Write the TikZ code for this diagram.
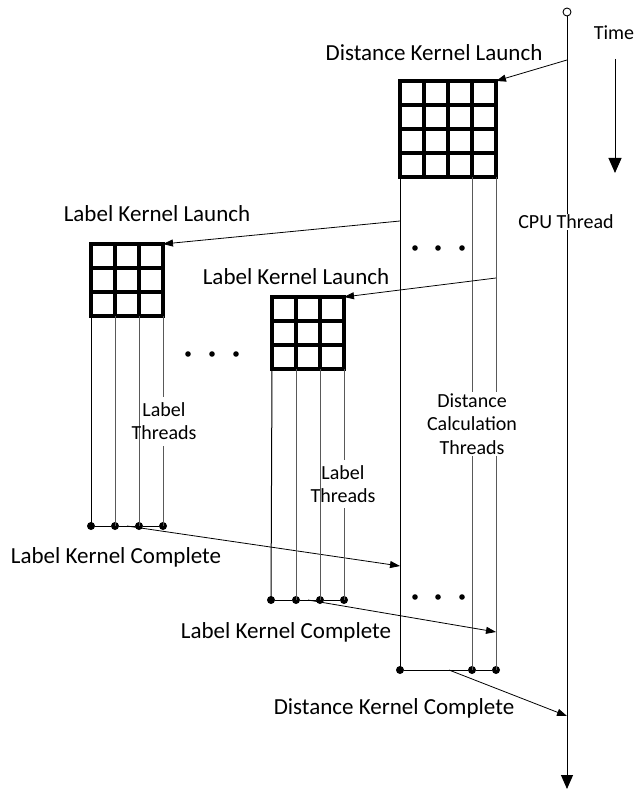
\documentclass[tikz,border=0pt]{standalone}
\usepackage{fontspec}
\setmainfont{Carlito}
\usetikzlibrary{arrows.meta}
\begin{document}
\begin{tikzpicture}[x=1pt,y=-1pt,
  big/.style={font=\fontsize{23}{27}\selectfont, inner sep=0pt, anchor=base},
  small/.style={font=\fontsize{20}{23.5}\selectfont, inner sep=0pt, align=center},
  gridline/.style={line width=3.5pt, line cap=rect},
  thread/.style={line width=1pt, black!65},
  kline/.style={line width=1pt, black},
  arr/.style={line width=0.8pt, -{Triangle[length=10pt,width=7pt]}},
  bigarr/.style={line width=1pt, -{Triangle[length=14pt,width=12pt]}},
  dot/.style={circle, fill=black, inner sep=0pt, minimum size=8pt},
]
\useasboundingbox (0,0) rectangle (635,791);

% ---------- coordinates ----------
\coordinate (dTR) at (496,81);
\coordinate (aTR) at (163,244);
\coordinate (bTR) at (344,297);

% ---------- grids ----------
\foreach \i in {0,...,4} {
  \draw[gridline] (400+24*\i,81) -- (400+24*\i,177);
  \draw[gridline] (400,81+24*\i) -- (496,81+24*\i);
}
\foreach \i in {0,...,3} {
  \draw[gridline] (91+24*\i,244) -- (91+24*\i,316);
  \draw[gridline] (91,244+24*\i) -- (163,244+24*\i);
  \draw[gridline] (272+24*\i,297) -- (272+24*\i,369);
  \draw[gridline] (272,297+24*\i) -- (344,297+24*\i);
}

% ---------- CPU thread ----------
\node[circle, draw, fill=white, inner sep=0pt, minimum size=8pt, line width=0.9pt] (cpuTop) at (567,12) {};
\coordinate (cpuEnd) at (567,789);
\draw[bigarr] (cpuTop) -- (cpuEnd);
\node[small, fill=white, inner sep=1pt] (cpulbl) at (566,222) {CPU Thread};

% ---------- Time ----------
\node[small, anchor=base] (time) at (614,40) {Time};
\coordinate (tA) at (615,59);
\coordinate (tB) at (615,173);
\draw[line width=1pt, -{Triangle[length=15pt,width=13pt]}] (tA) -- (tB);

% ---------- distance kernel ----------
\node[big] (dlaunch) at (434,61) {Distance Kernel Launch};
\coordinate (cpuL) at (567,60);
\draw[arr] (cpuL) -- (dTR);

\node[dot] (dd1) at (400,670) {};
\node[dot] (dd2) at (472,670) {};
\node[dot] (dd3) at (496,670) {};
\draw[kline] (400,177) -- (dd1.center);
\draw[thread] (472,177) -- (dd2.center);
\draw[thread] (496,177) -- (dd3.center);
\draw[kline] (dd1) -- (dd2) -- (dd3);
\node[small, fill=white, inner sep=2pt] (dthr) at (472,424) {Distance\\Calculation\\Threads};

\foreach \x in {415,438,462} { \fill (\x,248) circle (2.8pt); \fill (\x,597) circle (2.8pt); }

\coordinate (dcS) at (449,670);
\coordinate (cpuC) at (567,716);
\draw[arr] (dcS) -- (cpuC);
\node[big] (dcomp) at (394,714) {Distance Kernel Complete};

% ---------- label kernel 1 ----------
\node[big] (l1launch) at (157,222) {Label Kernel Launch};
\coordinate (dL1) at (400,221);
\draw[arr] (dL1) -- (aTR);

\node[dot] (a1) at (91,526) {};
\node[dot] (a2) at (115,526) {};
\node[dot] (a3) at (139,526) {};
\node[dot] (a4) at (163,526) {};
\draw[kline] (91,316) -- (a1.center);
\draw[thread] (115,316) -- (a2.center);
\draw[thread] (139,316) -- (a3.center);
\draw[thread] (163,316) -- (163,397);
\draw[thread] (163,446) -- (a4.center);
\draw[kline] (a1) -- (a2) -- (a3) -- (a4);
\node[small] (athr) at (164,421) {Label\\Threads};

\coordinate (aS) at (127,526);
\coordinate (dC1) at (400,566);
\draw[arr] (aS) -- (dC1);
\node[big] (acomp) at (116,563) {Label Kernel Complete};

% dots between label kernels
\foreach \x in {188,212,236} { \fill (\x,354) circle (2.8pt); }

% ---------- label kernel 2 ----------
\node[big] (l2launch) at (296,284) {Label Kernel Launch};
\coordinate (dL2) at (496,278);
\draw[arr] (dL2) -- (bTR);

\node[dot] (b1) at (271,600) {};
\node[dot] (b2) at (296,600) {};
\node[dot] (b3) at (320,600) {};
\node[dot] (b4) at (344,600) {};
\draw[kline] (272,369) -- (b1.center);
\draw[thread] (296,369) -- (b2.center);
\draw[thread] (320,369) -- (b3.center);
\draw[thread] (344,369) -- (344,460);
\draw[thread] (344,508) -- (b4.center);
\draw[kline] (b1) -- (b2) -- (b3) -- (b4);
\node[small] (bthr) at (343,484) {Label\\Threads};

\coordinate (bS) at (308,600);
\coordinate (dC2) at (496,632);
\draw[arr] (bS) -- (dC2);
\node[big] (bcomp) at (286,638) {Label Kernel Complete};
\end{tikzpicture}
\end{document}
